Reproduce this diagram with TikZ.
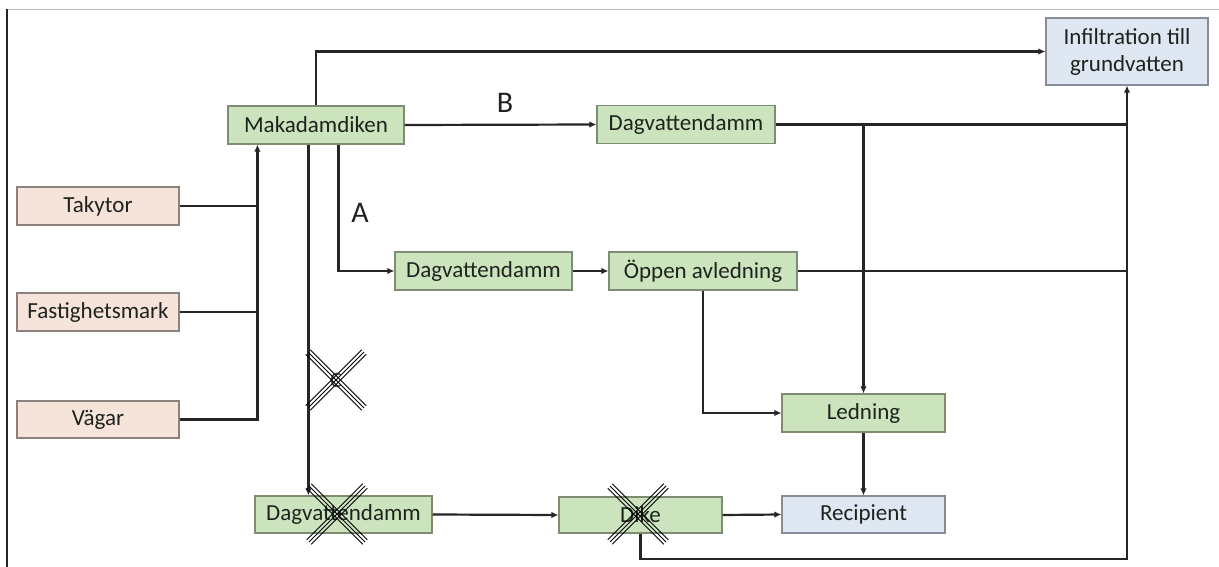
\documentclass[tikz,border=0pt]{standalone}
\usepackage{fontspec}
\setmainfont{Carlito}
\usetikzlibrary{arrows.meta,calc}
\definecolor{gfill}{RGB}{204,228,190}
\definecolor{gdraw}{RGB}{125,140,115}
\definecolor{pfill}{RGB}{246,228,218}
\definecolor{pdraw}{RGB}{140,130,125}
\definecolor{bfill}{RGB}{222,231,242}
\definecolor{bdraw}{RGB}{135,140,150}
\definecolor{txt}{RGB}{30,35,30}
\newcommand\mytriplex[1]{%
  \foreach \o in {-2.3,0,2.3}{%
    \draw[line width=0.9pt,black,shift={(#1)}] (-28+\o,-28-\o) -- (28+\o,28-\o);
    \draw[line width=0.9pt,black,shift={(#1)}] (-28+\o,28+\o) -- (28+\o,-28+\o);
  }}
\tikzset{
  box/.style={draw, line width=1.2pt, inner sep=0pt, text=txt,
    font=\fontsize{23}{27}\selectfont, align=center},
  gbox/.style={box, fill=gfill, draw=gdraw},
  pbox/.style={box, fill=pfill, draw=pdraw},
  bbox/.style={box, fill=bfill, draw=bdraw},
  conn/.style={line width=2.2pt, black!85},
  arr/.style={conn, -{Latex[length=7pt,width=6.5pt]}},
  letter/.style={text=txt, font=\fontsize{30}{30}\selectfont, inner sep=0pt}
}
\begin{document}
\begin{tikzpicture}[x=1pt,y=-1pt]
\useasboundingbox (0,0) rectangle (1219,567);
% frame
\draw[line width=0.8pt, black!25] (7,9) -- (1219,9);
\draw[line width=2pt, black!85] (7,9) -- (7,567);
% nodes
\node[gbox, minimum width=176pt, minimum height=38pt] (mak) at (316,125) {Makadamdiken};
\node[pbox, minimum width=162pt, minimum height=38pt] (tak) at (98,206) {Takytor};
\node[pbox, minimum width=162pt, minimum height=38pt] (fas) at (98,312) {Fastighetsmark};
\node[pbox, minimum width=162pt, minimum height=37pt] (vag) at (98,419.5) {Vägar};
\node[bbox, minimum width=162pt, minimum height=67pt] (inf) at (1127,51.5) {Infiltration till\\grundvatten};
\node[gbox, minimum width=178pt, minimum height=38pt] (dB) at (686,124.5) {Dagvattendamm};
\node[gbox, minimum width=177pt, minimum height=38pt] (dA) at (483.5,271) {Dagvattendamm};
\node[gbox, minimum width=188pt, minimum height=38pt] (opp) at (703,271) {Öppen avledning};
\node[gbox, minimum width=163pt, minimum height=38pt] (led) at (863.5,413) {Ledning};
\node[bbox, minimum width=163pt, minimum height=37pt] (rec) at (863.5,514.5) {Recipient};
\node[gbox, minimum width=177pt, minimum height=37pt] (dC) at (343.5,514.5) {Dagvattendamm};
\node[gbox, minimum width=163pt, minimum height=36pt] (dike) at (640.5,515) {Dike};
% labels
\node[letter] (lA) at (360,213) {A};
\node[letter] (lB) at (505,103) {B};
\node[text=black!70, font=\fontsize{22}{22}\selectfont, inner sep=0pt] (lC) at (336,380) {C};
% coordinates
\coordinate (mkin) at ([xshift=30pt]mak.south west);
\coordinate (mkA) at ([xshift=111pt]mak.south west);
\coordinate (mkC) at ([xshift=81pt]mak.south west);
% connectors: sources
\draw[arr] (vag.east) -| (mkin);
\draw[conn] (tak.east) -- (tak.east -| mkin);
\draw[conn] (fas.east) -- (fas.east -| mkin);
% from Makadamdiken
\draw[arr] (mak.north) |- (inf.west);
\draw[arr] (mak.east) -- (dB.west);
\draw[arr] (mkA) |- (dA.west);
\draw[arr] (mkC) -- (mkC |- dC.north);
% route A
\draw[arr] (dA.east) -- (opp.west);
\draw[conn] (opp.east) -- (opp.east -| inf.south);
\draw[arr] (opp.south) |- (led.west);
% route B
\draw[conn] (dB.east) -- (dB.east -| inf.south);
\draw[arr] (dB.east -| led.north) -- (led.north);
\draw[arr] (led.south) -- (rec.north);
% route C
\draw[arr] (dC.east) -- (dike.west);
\draw[arr] (dike.east) -- (rec.west);
\draw[arr] (dike.south) -- ++(0,25) -| (inf.south);
% crosses
\coordinate (x1) at (336,380);
\coordinate (x2) at (337,514);
\coordinate (x3) at (638,514);
\mytriplex{x1}
\mytriplex{x2}
\mytriplex{x3}
\end{tikzpicture}
\end{document}
